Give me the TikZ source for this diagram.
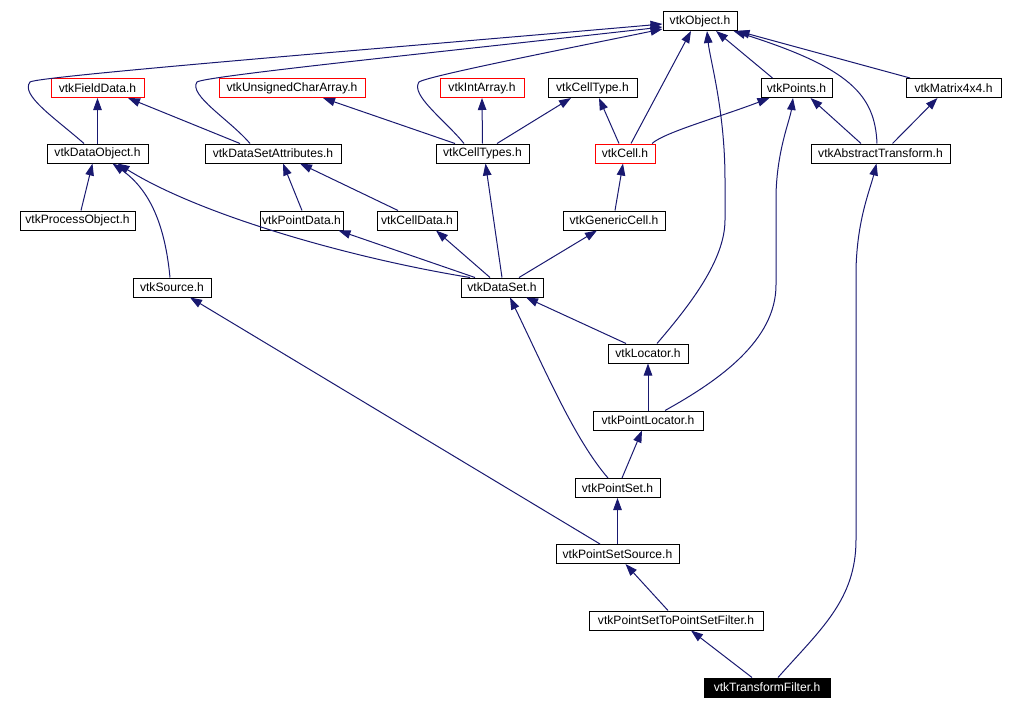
\documentclass[tikz,border=0pt]{standalone}
\usepackage{fontspec}
\setmainfont{Liberation Sans}
\usetikzlibrary{arrows.meta,calc}
\definecolor{edgeblue}{HTML}{191970}
\begin{document}
\begin{tikzpicture}[x=1pt,y=-1pt,
  box/.style={draw=black,line width=1pt,inner sep=0pt,minimum height=19pt,
    font=\fontsize{12.1}{12}\selectfont},
  redbox/.style={box,draw=red},
  curbox/.style={box,fill=black,text=white},
  edge/.style={draw=edgeblue,line width=1pt,-{Triangle[length=12pt,width=8.5pt]}}]
\useasboundingbox (0,0) rectangle (1010,709);
% nodes
\node[box,minimum width=74pt]  (obj)       at (700,21)    {vtkObject.h};
\node[redbox,minimum width=93pt]  (field)  at (97.5,88)   {vtkFieldData.h};
\node[redbox,minimum width=146pt] (uchar)  at (292,88)    {vtkUnsignedCharArray.h};
\node[redbox,minimum width=84pt]  (intarr) at (482,88)    {vtkIntArray.h};
\node[box,minimum width=89pt]  (celltype)  at (592.5,88)  {vtkCellType.h};
\node[box,minimum width=71pt]  (points)    at (796.5,88)  {vtkPoints.h};
\node[box,minimum width=95pt]  (matrix)    at (953.5,88)  {vtkMatrix4x4.h};
\node[box,minimum width=101pt] (dataobj)   at (97.5,153.5) {vtkDataObject.h};
\node[box,minimum width=136pt] (dsattr)    at (273,153.5) {vtkDataSetAttributes.h};
\node[box,minimum width=93pt]  (celltypes) at (482.5,153.5) {vtkCellTypes.h};
\node[redbox,minimum width=60pt]  (cell)   at (625,153.5) {vtkCell.h};
\node[box,minimum width=139pt] (abstr)     at (880.5,153.5) {vtkAbstractTransform.h};
\node[box,minimum width=115pt] (procobj)   at (77.5,220.5) {vtkProcessObject.h};
\node[box,minimum width=83pt]  (pointdata) at (301.5,220.5) {vtkPointData.h};
\node[box,minimum width=80pt]  (celldata)  at (417,220.5) {vtkCellData.h};
\node[box,minimum width=102pt] (generic)   at (614,220.5) {vtkGenericCell.h};
\node[box,minimum width=78pt]  (source)    at (172,287.5) {vtkSource.h};
\node[box,minimum width=82pt]  (dataset)   at (502,287.5) {vtkDataSet.h};
\node[box,minimum width=80pt]  (locator)   at (648,353.5) {vtkLocator.h};
\node[box,minimum width=110pt] (ploc)      at (648,420.5) {vtkPointLocator.h};
\node[box,minimum width=85pt]  (pset)      at (617.5,488) {vtkPointSet.h};
\node[box,minimum width=123pt] (pssrc)     at (617.5,554) {vtkPointSetSource.h};
\node[box,minimum width=174pt] (psfilt)    at (676,620.5) {vtkPointSetToPointSetFilter.h};
\node[curbox,minimum width=126pt] (tfilt)  at (767,687.5) {vtkTransformFilter.h};
% edges
\draw[edge] ($(dataobj.north)+(-13.5,0)$) .. controls (55,118) and (20,95) .. (30,82)
  .. controls (38,76) and (400,47) .. ($(obj.west)+(0,3)$);
\draw[edge] ($(dsattr.north)+(-23,0)$) .. controls (230,120) and (188,95) .. (197,82)
  .. controls (205,76) and (450,51) .. ($(obj.west)+(0,6)$);
\draw[edge] ($(celltypes.north)+(-18.5,0)$) .. controls (445,120) and (410,95) .. (419,82)
  .. controls (428,76) and (560,50) .. ($(obj.west)+(0,8)$);
\draw[edge] (dataobj.north) -- (field.south);
\draw[edge] ($(dsattr.north)+(-33,0)$) -- ($(field.south)+(30.5,0)$);
\draw[edge] ($(celltypes.north)+(-27.5,0)$) -- ($(uchar.south)+(31,0)$);
\draw[edge] (celltypes.north) -- (intarr.south);
\draw[edge] ($(celltypes.north)+(14.5,0)$) -- ($(celltype.south)+(-21.5,0)$);
\draw[edge] ($(cell.north)+(-6,0)$) -- ($(celltype.south)+(6.5,0)$);
\draw[edge] ($(cell.north)+(6,0)$) -- ($(obj.south)+(-9,0)$);
\draw[edge] ($(cell.north)+(27,0)$) .. controls (665,132) and (720,117) .. ($(points.south)+(-27,0)$);
\draw[edge] ($(locator.north)+(9,0)$) .. controls (690,305) and (725,260) .. (725,220)
  -- (725,180) .. controls (725,110) and (710,60) .. ($(obj.south)+(7,0)$);
\draw[edge] ($(points.north)+(-24,0)$) -- ($(obj.south)+(16,0)$);
\draw[edge] ($(abstr.north)+(-3.5,0)$) .. controls (875,95) and (850,68) .. ($(obj.south east)+(-4,0)$);
\draw[edge] ($(matrix.north)+(-43.5,0)$) -- (obj.south east);
\draw[edge] ($(abstr.north)+(-19.5,0)$) -- ($(points.south)+(14,0)$);
\draw[edge] ($(abstr.north)+(12,0)$) -- ($(matrix.south)+(-16,0)$);
\draw[edge] ($(procobj.north)+(3.5,0)$) -- ($(dataobj.south)+(-5,0)$);
\draw[edge] ($(source.north)+(-2,0)$) .. controls (165,225) and (150,190) .. ($(dataobj.south)+(15,0)$);
\draw[edge] ($(dataset.north)+(-32,0)$) .. controls (350,258) and (200,215) .. ($(dataobj.south)+(20,0)$);
\draw[edge] ($(pointdata.north)+(0.5,0)$) -- ($(dsattr.south)+(10,0)$);
\draw[edge] ($(celldata.north)+(-19,0)$) -- ($(dsattr.south)+(27,0)$);
\draw[edge] ($(dataset.north)+(-27,0)$) -- ($(pointdata.south)+(37,0)$);
\draw[edge] ($(dataset.north)+(-12,0)$) -- ($(celldata.south)+(19,0)$);
\draw[edge] (dataset.north) -- ($(celltypes.south)+(3,0)$);
\draw[edge] ($(dataset.north)+(17,0)$) -- ($(generic.south)+(-17,0)$);
\draw[edge] ($(generic.north)+(1,0)$) -- ($(cell.south)+(-2,0)$);
\draw[edge] ($(pssrc.north)+(-17.5,0)$) -- ($(source.south)+(18,0)$);
\draw[edge] ($(locator.north)+(-22,0)$) -- ($(dataset.south)+(24,0)$);
\draw[edge] (ploc.north) -- (locator.south);
\draw[edge] ($(ploc.north)+(17,0)$) .. controls (720,380) and (776,340) .. (776,285)
  -- (776,195) .. controls (777,150) and (790,120) .. ($(points.south)+(-3.5,0)$);
\draw[edge] ($(pset.north)+(-9.5,0)$) .. controls (575,440) and (545,370) .. ($(dataset.south)+(8,0)$);
\draw[edge] ($(pset.north)+(4.5,0)$) -- ($(ploc.south)+(-6,0)$);
\draw[edge] (pssrc.north) -- (pset.south);
\draw[edge] ($(psfilt.north)+(-8,0)$) -- ($(pssrc.south)+(8,0)$);
\draw[edge] ($(tfilt.north)+(-15,0)$) -- ($(psfilt.south)+(15,0)$);
\draw[edge] ($(tfilt.north)+(11,0)$) .. controls (820,630) and (856,600) .. (856,540)
  -- (856,270) .. controls (857,220) and (870,190) .. ($(abstr.south)+(-4,0)$);
\end{tikzpicture}
\end{document}
